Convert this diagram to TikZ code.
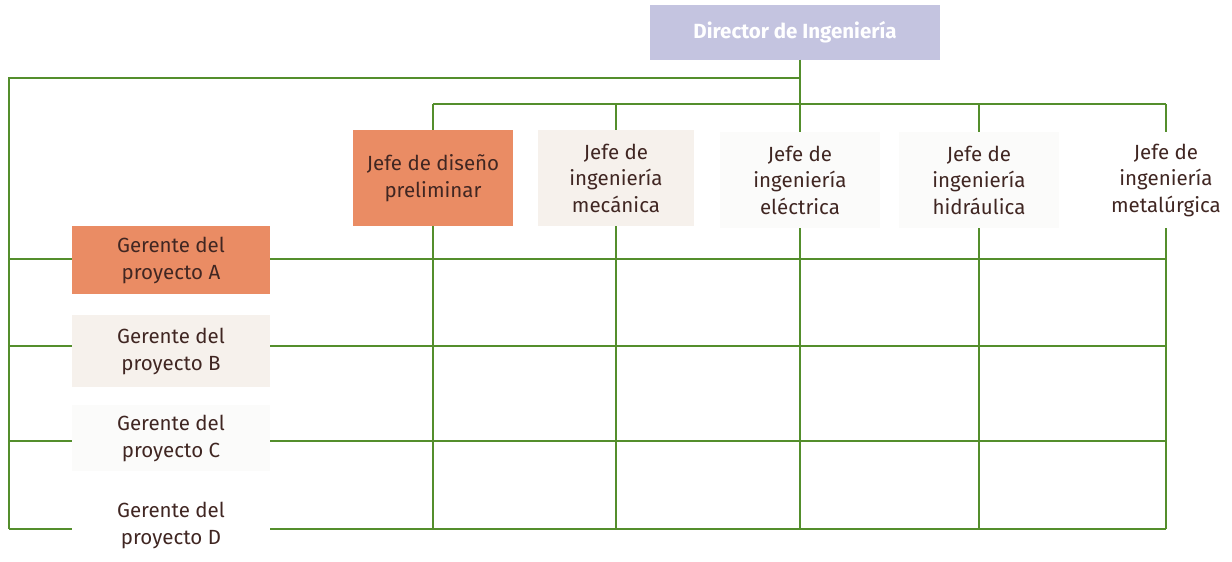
\documentclass[tikz,border=0pt]{standalone}
\usepackage{fontspec}
\setmainfont{Fira Sans}
\definecolor{lgreen}{RGB}{84,142,44}
\definecolor{orangebox}{RGB}{234,140,100}
\definecolor{beigebox}{RGB}{246,241,236}
\definecolor{paleBox}{RGB}{251,251,250}
\definecolor{lavender}{RGB}{196,196,224}
\definecolor{txtbrown}{RGB}{64,38,34}
\tikzset{
  conn/.style={draw=lgreen, line width=2.4pt},
  dept/.style={minimum width=160pt, minimum height=96pt, inner sep=0pt, align=center,
     text=txtbrown, font=\fontsize{20.5}{26.5}\selectfont},
  mgr/.style={minimum width=198pt, minimum height=68pt, inner sep=0pt, align=center,
     text=txtbrown, font=\fontsize{20.5}{27}\selectfont},
  dirbox/.style={minimum width=290pt, minimum height=55pt, inner sep=0pt, fill=lavender,
     text=white, font=\bfseries\fontsize{20.5}{24}\selectfont},
}
\begin{document}
\begin{tikzpicture}[x=1pt,y=-1pt]
\path[fill=white, use as bounding box] (0,0) rectangle (1232,562);

% nodes
\node[dirbox] (dir) at (795,32) {Director de Ingeniería};

\node[dept, fill=orangebox] (d1) at (433,178) {Jefe de diseño\\preliminar};
\node[dept, fill=beigebox, minimum width=156pt] (d2) at (616,178) {Jefe de\\ingeniería\\mecánica};
\node[dept, fill=paleBox] (d3) at (800,180) {Jefe de\\ingeniería\\eléctrica};
\node[dept, fill=paleBox] (d4) at (979,180) {Jefe de\\ingeniería\\hidráulica};
\node[dept, fill=white, minimum width=140pt] (d5) at (1166,180) {Jefe de\\ingeniería\\metalúrgica};

\node[mgr, fill=orangebox] (m1) at (171,260) {Gerente del\\proyecto A};
\node[mgr, fill=beigebox, minimum height=72pt] (m2) at (171,351) {Gerente del\\proyecto B};
\node[mgr, fill=paleBox, minimum height=66pt] (m3) at (171,438) {Gerente del\\proyecto C};
\node[mgr, fill=white] (m4) at (171,525) {Gerente del\\proyecto D};

% junction coordinates
\coordinate (dj) at (800,104);
\coordinate (tl) at (9,78);
\coordinate (td) at (800,78);
\coordinate (ta) at (433,104);
\coordinate (tz) at (1166,104);
\foreach \y/\n in {259/1,346/2,441/3,529/4}{
  \coordinate (L\n) at (9,\y);
  \coordinate (R\n) at (1166,\y);
}

% connectors
\draw[conn] (dir.south -| dj) -- (dj);
\draw[conn, line join=miter] (td) -- (tl) -- (L4);
\draw[conn] (ta) -- (tz);
\foreach \i in {1,...,5}{
  \draw[conn] (d\i.north |- dj) -- (d\i.north);
  \draw[conn] (d\i.south) -- (d\i.south |- L4);
}
\foreach \i in {1,...,4}{
  \draw[conn] (L\i) -- (L\i -| m\i.west);
  \draw[conn] (L\i -| m\i.east) -- (R\i);
}
\end{tikzpicture}
\end{document}
